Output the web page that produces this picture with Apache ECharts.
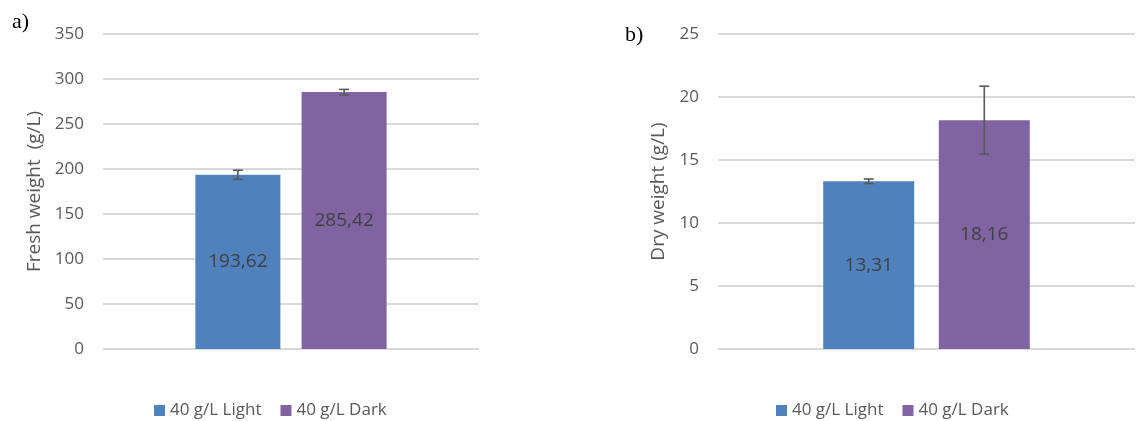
<!DOCTYPE html>
<html>
<head>
<meta charset="utf-8">
<script src="https://cdn.jsdelivr.net/npm/echarts@6/dist/echarts.min.js"></script>
<style>
html,body{margin:0;padding:0;background:#fff;}
#c{width:1136px;height:421px;}
</style>
</head>
<body>
<div id="c"></div>
<script>
const categories = [''];
const seriesNames = ['40 g/L Light', '40 g/L Dark'];
const seriesColors = ['#4f81bd', '#8064a2'];
const freshWeight = [193.62, 285.42];
const freshErr = [5, 3];
const dryWeight = [13.31, 18.16];
const dryErr = [0.18, 2.7];
const freshAxis = { min: 0, max: 350, interval: 50 };
const dryAxis = { min: 0, max: 25, interval: 5 };
const panelLabels = ['a)', 'b)'];
const axisNames = ['Fresh weight  (g/L)', 'Dry weight (g/L)'];

const FONT = 'Open Sans';
const barW = [85, 91];
const barGapPct = [25, 27];

function fmt(v) { return v.toFixed(2).replace('.', ','); }

function barSeries(gi, values) {
  return seriesNames.map((name, i) => ({
    type: 'bar', name: name, xAxisIndex: gi, yAxisIndex: gi,
    data: [values[i]], barWidth: barW[gi], barGap: barGapPct[gi] + '%',
    itemStyle: { color: seriesColors[i] },
    label: { show: true, position: 'inside', color: '#404040', fontFamily: FONT, fontSize: 19,
      formatter: p => fmt(p.value) },
    emphasis: { disabled: true }
  }));
}

function errSeries(gi, values, errs) {
  const off = (barW[gi] + barW[gi] * barGapPct[gi] / 100) / 2;
  return {
    type: 'custom', xAxisIndex: gi, yAxisIndex: gi, silent: true, z: 10,
    data: values.map((v, i) => [0, v, errs[i]]),
    encode: { x: 0, y: 1 },
    renderItem: function (params, api) {
      const sign = params.dataIndex === 0 ? -1 : 1;
      const v = api.value(1), e = api.value(2);
      const top = api.coord([api.value(0), v + e]);
      const bot = api.coord([api.value(0), v - e]);
      const x = top[0] + sign * off;
      const cap = 5;
      const st = { stroke: '#595959', lineWidth: 1.6 };
      return { type: 'group', children: [
        { type: 'line', shape: { x1: x, y1: top[1], x2: x, y2: bot[1] }, style: st },
        { type: 'line', shape: { x1: x - cap, y1: top[1], x2: x + cap, y2: top[1] }, style: st },
        { type: 'line', shape: { x1: x - cap, y1: bot[1], x2: x + cap, y2: bot[1] }, style: st }
      ]};
    }
  };
}

function yAx(gi, ax, gap) {
  return {
    type: 'value', gridIndex: gi, min: ax.min, max: ax.max, interval: ax.interval,
    name: axisNames[gi], nameLocation: 'middle', nameGap: gap, nameRotate: 90,
    nameTextStyle: { color: '#595959', fontFamily: FONT, fontSize: 19 },
    axisLine: { show: false }, axisTick: { show: false },
    axisLabel: { color: '#595959', fontFamily: FONT, fontSize: 17, margin: 19 },
    splitLine: { lineStyle: { color: '#d9d9d9', width: 2 } }
  };
}

function xAx(gi) {
  return { type: 'category', gridIndex: gi, data: categories,
    axisLine: { show: false }, axisTick: { show: false }, axisLabel: { show: false } };
}

const legendCommon = {
  data: seriesNames, itemWidth: 11, itemHeight: 11, itemGap: 19, icon: 'rect',
  textStyle: { color: '#595959', fontFamily: FONT, fontSize: 17 }, selectedMode: false
};

const option = {
  animation: false,
  title: [
    { text: panelLabels[0], left: 7, top: 6, textStyle: { fontFamily: 'Liberation Serif', fontSize: 22, fontWeight: 'normal', color: '#000' } },
    { text: panelLabels[1], left: 620, top: 19, textStyle: { fontFamily: 'Liberation Serif', fontSize: 22, fontWeight: 'normal', color: '#000' } }
  ],
  grid: [
    { left: 103, width: 376, top: 34, height: 315 },
    { left: 718, width: 417, top: 34, height: 315 }
  ],
  legend: [
    Object.assign({ left: 149, top: 397 }, legendCommon),
    Object.assign({ left: 771, top: 397 }, legendCommon)
  ],
  xAxis: [xAx(0), xAx(1)],
  yAxis: [yAx(0, freshAxis, 59), yAx(1, dryAxis, 50)],
  series: [].concat(
    barSeries(0, freshWeight), [errSeries(0, freshWeight, freshErr)],
    barSeries(1, dryWeight), [errSeries(1, dryWeight, dryErr)]
  )
};

const chart = echarts.init(document.getElementById('c'), null, { renderer: 'canvas' });
chart.setOption(option);
</script>
</body>
</html>
